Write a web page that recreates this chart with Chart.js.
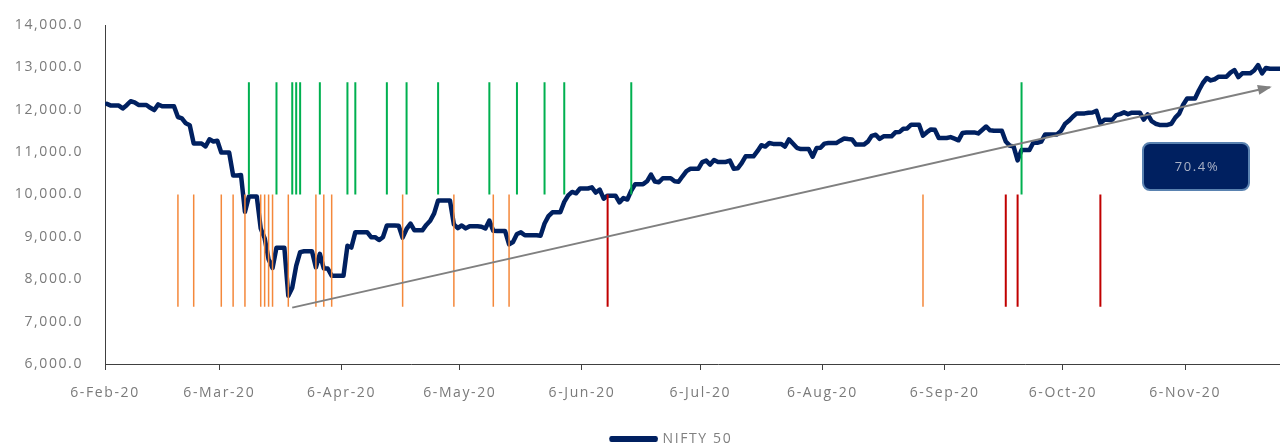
<!DOCTYPE html>
<html>
<head>
<meta charset="utf-8">
<script src="https://cdn.jsdelivr.net/npm/chart.js@4"></script>
<style>
  html, body { margin: 0; padding: 0; background: #fff; overflow: hidden; }
  #wrap { width: 1331px; height: 456px; position: relative; }
</style>
</head>
<body>
<div id="wrap"><canvas id="niftyChart"></canvas></div>
<script>
// NIFTY 50 close, one value per calendar day from 6-Feb-20 (weekends/holidays carry the last close)
const startDate = '2020-02-06';
const niftyDaily = [
  12137, 12098, 12098, 12098,
  12031, 12108, 12201, 12174, 12113, 12113, 12113,
  12046, 11993, 12126, 12081, 12081, 12081, 12081,
  11829, 11798, 11679, 11633, 11202, 11202, 11202,
  11133, 11303, 11251, 11270, 10989, 10989, 10989,
  10451, 10451, 10458, 9590, 9955, 9955, 9955,
  9197, 8967, 8469, 8264, 8745, 8745, 8745,
  7610, 7801, 8318, 8641, 8660, 8660, 8660,
  8281, 8598, 8254, 8254, 8084, 8084, 8084,
  8084, 8792, 8748, 9112, 9112, 9112, 9112,
  8994, 8994, 8925, 8992, 9267, 9267, 9267,
  9262, 8981, 9187, 9314, 9154, 9154, 9154,
  9282, 9381, 9553, 9860, 9860, 9860, 9860,
  9294, 9206, 9270, 9200, 9252, 9252, 9252,
  9240, 9197, 9384, 9143, 9137, 9137, 9137,
  8823, 8880, 9067, 9106, 9039, 9039, 9039,
  9039, 9029, 9315, 9490, 9580, 9580, 9580,
  9826, 9980, 10061, 10029, 10142, 10142, 10142,
  10168, 10047, 10116, 9902, 9973, 9973, 9973,
  9814, 9914, 9882, 10092, 10244, 10244, 10244,
  10312, 10471, 10305, 10288, 10383, 10383, 10383,
  10312, 10302, 10430, 10552, 10607, 10607, 10607,
  10764, 10800, 10706, 10813, 10768, 10768, 10768,
  10802, 10607, 10618, 10740, 10902, 10902, 10902,
  11022, 11162, 11132, 11215, 11194, 11194, 11194,
  11132, 11300, 11202, 11102, 11073, 11073, 11073,
  10892, 11095, 11102, 11200, 11214, 11214, 11214,
  11270, 11322, 11308, 11300, 11178, 11178, 11178,
  11247, 11385, 11409, 11312, 11372, 11372, 11372,
  11467, 11472, 11550, 11559, 11647, 11647, 11647,
  11388, 11470, 11536, 11528, 11334, 11334, 11334,
  11355, 11318, 11279, 11450, 11465, 11465, 11465,
  11441, 11522, 11605, 11516, 11505, 11505, 11505,
  11250, 11153, 11132, 10806, 11050, 11050, 11050,
  11228, 11222, 11248, 11417, 11417, 11417, 11417,
  11503, 11662, 11738, 11835, 11914, 11914, 11914,
  11931, 11935, 11972, 11680, 11762, 11762, 11762,
  11873, 11897, 11938, 11896, 11930, 11930, 11930,
  11768, 11889, 11730, 11670, 11642, 11642, 11642,
  11669, 11814, 11909, 12120, 12264, 12264, 12264,
  12461, 12631, 12749, 12691, 12720, 12780, 12780,
  12780, 12875, 12938, 12772, 12860, 12860, 12860,
  12927, 13055, 12858, 12987, 12969, 12969, 12969,
  12969
];

// x axis ticks
const tickDates = ['2020-02-06', '2020-03-06', '2020-04-06', '2020-05-06', '2020-06-06',
                   '2020-07-06', '2020-08-06', '2020-09-06', '2020-10-06', '2020-11-06'];
const tickLabels = ['6-Feb-20', '6-Mar-20', '6-Apr-20', '6-May-20', '6-Jun-20',
                    '6-Jul-20', '6-Aug-20', '6-Sep-20', '6-Oct-20', '6-Nov-20'];
const axisEnd = '2020-12-13';

// marker days
const greenDays = ['2020-03-13', '2020-03-20', '2020-03-24', '2020-03-25', '2020-03-26', '2020-03-31',
                   '2020-04-07', '2020-04-09', '2020-04-17', '2020-04-22', '2020-04-30', '2020-05-13',
                   '2020-05-20', '2020-05-27', '2020-06-01', '2020-06-18', '2020-09-25'];
const orangeDays = ['2020-02-24', '2020-02-28', '2020-03-06', '2020-03-09', '2020-03-12', '2020-03-16',
                    '2020-03-17', '2020-03-18', '2020-03-19', '2020-03-23', '2020-03-30', '2020-04-01',
                    '2020-04-03', '2020-04-21', '2020-05-04', '2020-05-14', '2020-05-18', '2020-08-31'];
const redDays = ['2020-06-12', '2020-09-21', '2020-09-24', '2020-10-15'];
const greenRange = [10000, 12650];
const downRange = [7350, 10000];

// trend arrow and its label
const arrowDates = ['2020-03-24', '2020-11-27'];
const arrowValues = [7330, 12530];
const gainLabel = '70.4%';

const DAY = 86400000;
const t0 = Date.parse(startDate + 'T00:00:00Z');
const dayOf = s => (Date.parse(s + 'T00:00:00Z') - t0) / DAY;
const mid = s => dayOf(s) + 0.5;

function markerPoints(dates, range) {
    const pts = [];
    dates.forEach(d => {
        pts.push({ x: mid(d), y: range[0] }, { x: mid(d), y: range[1] }, { x: mid(d), y: null });
    });
    return pts;
}

const decorations = {
    id: 'decorations',
    beforeDraw(chart) {
        chart.ctx.letterSpacing = '1.6px';
    },
    afterDatasetsDraw(chart) {
        const ctx = chart.ctx;
        // arrow head
        const pts = chart.getDatasetMeta(4).data;
        const a = pts[0], b = pts[1];
        const ang = Math.atan2(b.y - a.y, b.x - a.x);
        ctx.save();
        ctx.fillStyle = '#808080';
        ctx.translate(b.x, b.y);
        ctx.rotate(ang);
        ctx.beginPath();
        ctx.moveTo(2, 0);
        ctx.lineTo(-12, -5);
        ctx.lineTo(-12, 5);
        ctx.closePath();
        ctx.fill();
        ctx.restore();

        // gain box
        ctx.save();
        ctx.beginPath();
        ctx.roundRect(1143, 143, 106, 47, 7);
        ctx.fillStyle = '#002060';
        ctx.fill();
        ctx.lineWidth = 2;
        ctx.strokeStyle = '#5a82b0';
        ctx.stroke();
        ctx.fillStyle = '#aab2c6';
        ctx.font = '13px "Open Sans", sans-serif';
        ctx.textAlign = 'center';
        ctx.textBaseline = 'middle';
        ctx.fillText(gainLabel, 1197, 167);
        ctx.restore();
    }
};

Chart.defaults.font.family = '"Open Sans", sans-serif';
Chart.defaults.font.size = 14;
Chart.defaults.color = '#7a7a7a';

new Chart(document.getElementById('niftyChart'), {
    type: 'line',
    data: {
        datasets: [
            {
                label: 'NIFTY 50',
                data: niftyDaily.map((v, i) => ({ x: i + 0.5, y: v })),
                borderColor: '#002060',
                backgroundColor: '#002060',
                borderWidth: 4.5,
                borderJoinStyle: 'round',
                borderCapStyle: 'round',
                pointRadius: 0,
                tension: 0,
                order: 5
            },
            {
                label: 'up',
                data: markerPoints(greenDays, greenRange),
                borderColor: '#00b050',
                borderWidth: 2,
                pointRadius: 0,
                spanGaps: false,
                order: 3
            },
            {
                label: 'down',
                data: markerPoints(orangeDays, downRange),
                borderColor: '#f4883b',
                borderWidth: 1.5,
                pointRadius: 0,
                spanGaps: false,
                order: 3
            },
            {
                label: 'down2',
                data: markerPoints(redDays, downRange),
                borderColor: '#c00000',
                borderWidth: 2,
                pointRadius: 0,
                spanGaps: false,
                order: 3
            },
            {
                label: 'trend',
                data: arrowDates.map((d, i) => ({ x: mid(d), y: arrowValues[i] })),
                borderColor: '#808080',
                borderWidth: 2,
                pointRadius: 0,
                order: 1
            }
        ]
    },
    options: {
        responsive: true,
        maintainAspectRatio: false,
        animation: false,
        layout: { padding: { top: 25, right: 0, left: 0, bottom: 0 } },
        scales: {
            x: {
                type: 'linear',
                min: 0,
                max: dayOf(axisEnd),
                afterBuildTicks: scale => {
                    scale.ticks = tickDates.map(d => ({ value: dayOf(d) }));
                },
                afterFit: scale => { scale.height = 58; },
                ticks: {
                    autoSkip: false,
                    maxRotation: 0,
                    padding: 15,
                    callback: (value, i) => tickLabels[i]
                },
                grid: {
                    display: true,
                    drawOnChartArea: false,
                    drawTicks: true,
                    tickLength: 6,
                    color: '#404040'
                },
                border: { display: true, color: '#404040', width: 1 }
            },
            y: {
                min: 6000,
                max: 14000,
                afterFit: scale => { scale.width = 105; },
                ticks: {
                    stepSize: 1000,
                    padding: 2,
                    callback: v => v.toLocaleString('en-US', { minimumFractionDigits: 1, maximumFractionDigits: 1 })
                },
                grid: { display: false, drawTicks: true, tickLength: 20 },
                border: { display: true, color: '#404040', width: 1 }
            }
        },
        plugins: {
            legend: {
                display: true,
                position: 'bottom',
                labels: {
                    boxWidth: 44,
                    boxHeight: 1.5,
                    color: '#808080',
                    filter: item => item.datasetIndex === 0
                }
            },
            tooltip: { enabled: false }
        }
    },
    plugins: [decorations]
});
</script>
</body>
</html>
